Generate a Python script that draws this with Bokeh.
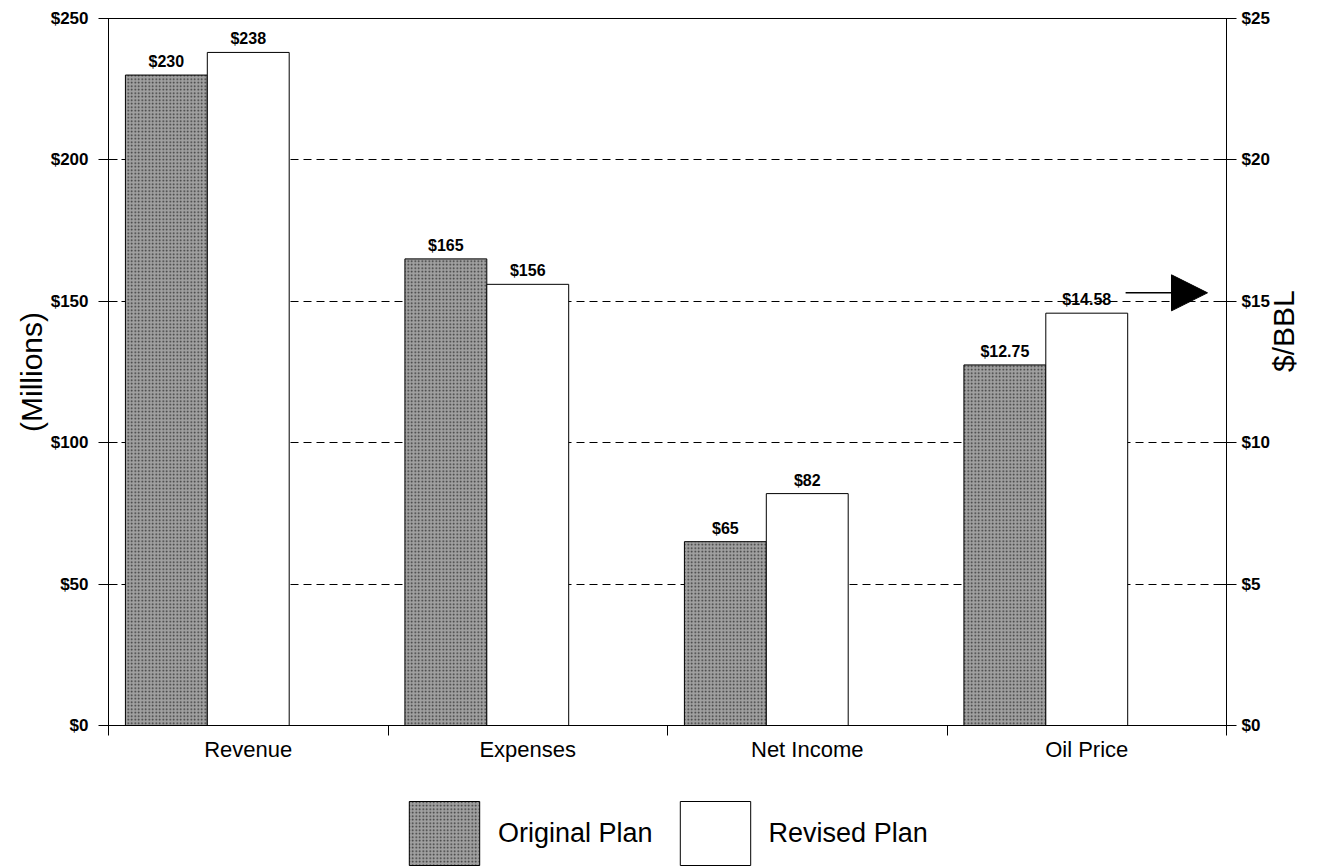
import math
from bokeh.plotting import figure
from bokeh.layouts import column
from bokeh.models import (ColumnDataSource, LinearAxis, Range1d, FixedTicker,
                          NumeralTickFormatter, Legend, LegendItem, Arrow, NormalHead)
from bokeh.core.properties import value
from bokeh.embed import file_html
from bokeh.resources import INLINE

# --- data -------------------------------------------------------------------
categories = ["Revenue", "Expenses", "Net Income", "Oil Price"]
original_plan = [230, 165, 65, 12.75]      # $ millions, last one $/BBL
revised_plan = [238, 156, 82, 14.58]
price_axis = [False, False, False, True]   # plotted against the $/BBL scale
series_names = ["Original Plan", "Revised Plan"]
left_ticks = [0, 50, 100, 150, 200, 250]
right_ticks = [0, 5, 10, 15, 20, 25]
arrow_level = 15.3                          # $/BBL level of the callout arrow

FONT = "Liberation Sans"
BAR_W = 0.293
ORIG_POS = 0.207
REV_POS = 0.5
ORIG_STYLE = dict(fill_color="#a0a0a0", hatch_pattern="dot", hatch_color="#333333",
                  hatch_scale=3.5, hatch_weight=1.3, line_color="black", line_width=1)
REV_STYLE = dict(fill_color="white", line_color="black", line_width=1)

p = figure(width=1320, height=780, x_range=Range1d(0, len(categories)),
           y_range=Range1d(left_ticks[0], left_ticks[-1]),
           output_backend="svg", toolbar_location=None,
           min_border_left=108, min_border_right=94,
           min_border_top=18, min_border_bottom=55)
p.extra_y_ranges = {"bbl": Range1d(right_ticks[0], right_ticks[-1])}
p.background_fill_color = "white"
p.border_fill_color = "white"
p.outline_line_color = "black"
p.outline_line_width = 1

# --- bars and value labels ------------------------------------------------
for on_price, rng in ((False, "default"), (True, "bbl")):
    idx = [i for i, f in enumerate(price_axis) if f == on_price]
    orig = [original_plan[i] for i in idx]
    rev = [revised_plan[i] for i in idx]
    fmt = (lambda v: f"${v:.2f}") if on_price else (lambda v: f"${v:g}")
    src = ColumnDataSource(dict(
        x_orig=[i + ORIG_POS for i in idx],
        x_rev=[i + REV_POS for i in idx],
        orig=orig, rev=rev,
        orig_lbl=[fmt(v) for v in orig],
        rev_lbl=[fmt(v) for v in rev],
    ))
    p.vbar(x="x_orig", top="orig", width=BAR_W, source=src, y_range_name=rng, **ORIG_STYLE)
    p.vbar(x="x_rev", top="rev", width=BAR_W, source=src, y_range_name=rng, **REV_STYLE)
    for xcol, ycol, tcol in (("x_orig", "orig", "orig_lbl"), ("x_rev", "rev", "rev_lbl")):
        p.text(x=xcol, y=ycol, text=tcol, source=src, y_range_name=rng,
               text_align="center", text_baseline="bottom", y_offset=-5,
               text_font=value(FONT), text_font_style="bold",
               text_font_size="16px", text_color="black")

# --- grid ------------------------------------------------------------------
p.xgrid.visible = False
p.ygrid.ticker = FixedTicker(ticks=left_ticks[1:-1])
p.ygrid.grid_line_color = "black"
p.ygrid.grid_line_dash = "8 5"
p.ygrid.grid_line_width = 1

# --- x axis: category names centred, boundary ticks -----------------------
centres = [i + 0.5 for i in range(len(categories))]
xa = p.xaxis[0]
xa.ticker = FixedTicker(ticks=centres, minor_ticks=list(range(len(categories) + 1)))
xa.major_label_overrides = {c: name for c, name in zip(centres, categories)}
xa.major_tick_out = 0
xa.major_tick_in = 0
xa.minor_tick_out = 10
xa.minor_tick_in = 0
xa.minor_tick_line_color = "black"
xa.axis_line_color = "black"
xa.major_label_standoff = 1
xa.major_label_text_font = FONT
xa.major_label_text_font_size = "22px"
xa.major_label_text_color = "black"

# --- left axis ($ millions) -----------------------------------------------
ya = p.yaxis[0]
ya.ticker = FixedTicker(ticks=left_ticks)
ya.formatter = NumeralTickFormatter(format="$0")
ya.major_tick_out = 10
ya.major_tick_in = 9
ya.minor_tick_line_color = None
ya.axis_line_color = "black"
ya.major_label_standoff = 10
ya.major_label_text_font = FONT
ya.major_label_text_font_style = "bold"
ya.major_label_text_font_size = "17px"
ya.major_label_text_color = "black"
ya.axis_label = "(Millions)"
ya.axis_label_text_font = FONT
ya.axis_label_text_font_style = "normal"
ya.axis_label_text_font_size = "30px"
ya.axis_label_text_color = "black"
ya.axis_label_standoff = 0

# --- right axis ($/BBL) ----------------------------------------------------
yb = LinearAxis(y_range_name="bbl", ticker=FixedTicker(ticks=right_ticks),
                formatter=NumeralTickFormatter(format="$0"))
yb.major_tick_out = 10
yb.major_tick_in = 9
yb.minor_tick_line_color = None
yb.axis_line_color = "black"
yb.major_label_standoff = 5
yb.major_label_text_font = FONT
yb.major_label_text_font_style = "bold"
yb.major_label_text_font_size = "17px"
yb.major_label_text_color = "black"
yb.axis_label = "$/BBL"
yb.axis_label_text_font = FONT
yb.axis_label_text_font_style = "normal"
yb.axis_label_text_font_size = "30px"
yb.axis_label_text_color = "black"
yb.axis_label_standoff = 11
if "axis_label_orientation" in yb.properties():
    yb.axis_label_orientation = math.pi / 2   # read bottom-to-top
p.add_layout(yb, "right")

# --- callout arrow toward the $15 level -------------------------------------
p.add_layout(Arrow(end=NormalHead(size=36, fill_color="black", line_color="black"),
                   x_start=3.639, y_start=arrow_level, x_end=3.932, y_end=arrow_level,
                   y_range_name="bbl", line_color="black", line_width=1.5))

# --- legend strip under the chart -------------------------------------------
lg = figure(width=1320, height=87, x_range=Range1d(0, 1), y_range=Range1d(0, 1),
            output_backend="svg", toolbar_location=None,
            x_axis_location=None, y_axis_location=None,
            min_border=0, min_border_left=0, min_border_right=0,
            min_border_top=0, min_border_bottom=0)
lg.grid.visible = False
lg.outline_line_color = None
lg.background_fill_color = "white"
lg.border_fill_color = "white"
# swatch carriers: zero-height bars parked outside the strip's visible range
sw_o = lg.vbar(x=[-1], top=[0], width=0.1, **ORIG_STYLE)
sw_r = lg.vbar(x=[-1], top=[0], width=0.1, **REV_STYLE)
legend = Legend(items=[LegendItem(label=series_names[0], renderers=[sw_o]),
                       LegendItem(label=series_names[1], renderers=[sw_r])],
                orientation="horizontal", location=(292, -6),
                glyph_width=88, glyph_height=80, label_standoff=10, spacing=18,
                padding=0, margin=0, border_line_color=None,
                background_fill_alpha=0,
                label_text_font=FONT, label_text_font_size="27px",
                label_text_color="black")
lg.add_layout(legend)

open("out.html", "w").write(file_html(column(p, lg, spacing=0), INLINE))
